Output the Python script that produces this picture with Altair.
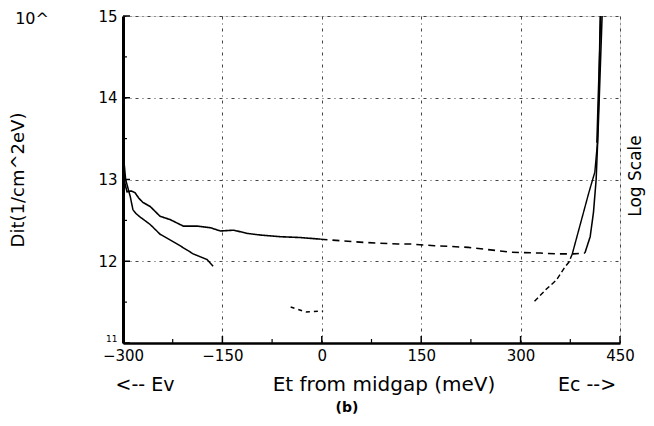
import altair as alt
import pandas as pd

# ---- data (Et in meV from midgap, Dit as log10 value) ----
a1_et = [-300, -299, -297, -294, -288, -282, -276, -270, -259, -244, -229, -209, -188, -168, -153, -133, -112, -92, -62, -32, -2]
a1_dit = [13.35, 13.15, 12.95, 12.85, 12.86, 12.84, 12.77, 12.72, 12.67, 12.55, 12.51, 12.43, 12.43, 12.41, 12.37, 12.38, 12.34, 12.32, 12.30, 12.29, 12.27]
a2_et = [-2, 30, 64, 115, 135, 170, 221, 286, 330, 357, 380, 397]
a2_dit = [12.27, 12.25, 12.23, 12.21, 12.21, 12.19, 12.17, 12.11, 12.10, 12.09, 12.09, 12.10]
a3_et = [397, 405, 410, 414, 417, 420, 423]
a3_dit = [12.10, 12.30, 12.60, 13.00, 13.60, 14.30, 15.00]

b1_et = [-300, -296, -289, -285, -280, -274, -259, -244, -218, -194, -173, -164]
b1_dit = [13.35, 13.00, 12.79, 12.63, 12.58, 12.54, 12.45, 12.33, 12.21, 12.09, 12.02, 11.94]
b2_et = [-47, -24, 2]
b2_dit = [11.44, 11.38, 11.39]
b3_et = [321, 339, 354, 367, 373, 378]
b3_dit = [11.51, 11.66, 11.77, 11.93, 11.99, 12.09]
b4_et = [378, 390, 403, 412, 416, 418, 420]
b4_dit = [12.09, 12.45, 12.84, 13.09, 13.45, 14.00, 15.00]

band_et = [415, 417, 419, 421]
band_dit = [13.45, 14.00, 14.50, 15.00]

x_major = [-300, -150, 0, 150, 300, 450]
x_minor = [-225, -75, 75, 225, 375]
y_major = [11, 12, 13, 14, 15]
y_minor = [11.5, 12.5, 13.5, 14.5]

segments = {
    "A1": (a1_et, a1_dit), "A2": (a2_et, a2_dit), "A3": (a3_et, a3_dit),
    "B1": (b1_et, b1_dit), "B2": (b2_et, b2_dit), "B3": (b3_et, b3_dit),
    "B4": (b4_et, b4_dit), "band": (band_et, band_dit),
}
rows = []
for seg, (xs, ys) in segments.items():
    for i, (x, y) in enumerate(zip(xs, ys)):
        rows.append({"seg": seg, "et": x, "dit": y, "i": i})
df = pd.DataFrame(rows)

seg_names = ["A1", "A2", "A3", "B1", "B2", "B3", "B4", "band"]
seg_dash = [[1, 0], [7, 5], [1, 0], [1, 0], [4, 4], [5, 3], [1, 0], [1, 0]]
seg_width = [1.6, 1.4, 1.8, 1.6, 1.3, 1.5, 1.8, 7]

W, H = 497, 327
FONT = "DejaVu Sans"

xscale = alt.Scale(domain=[-300, 450], nice=False, zero=False)
yscale = alt.Scale(domain=[11, 15], nice=False, zero=False)

xaxis = alt.Axis(
    values=x_major, grid=True, gridDash=[3, 4, 1, 4], gridColor="#444", gridWidth=1,
    ticks=False, domain=True, domainColor="black", domainWidth=2.5,
    labelFont=FONT, labelFontSize=15, labelColor="black", labelPadding=5,
    labelFlush=False, title=None, format="d")
yaxis = alt.Axis(
    values=y_major, grid=True, gridDash=[3, 4, 1, 4], gridColor="#444", gridWidth=1,
    ticks=False, domain=True, domainColor="black", domainWidth=3,
    labelFont=FONT, labelColor="black", labelPadding=6,
    labelFontSize={"condition": {"test": "datum.value === 11", "value": 9}, "value": 15},
    labelBaseline={"condition": {"test": "datum.value === 11", "value": "bottom"}, "value": "middle"},
    labelFlush=False, title=None, format="d")

lines = alt.Chart(df).mark_line(color="black", strokeCap="butt").encode(
    x=alt.X("et:Q", scale=xscale, axis=xaxis),
    y=alt.Y("dit:Q", scale=yscale, axis=yaxis),
    order="i:Q",
    strokeDash=alt.StrokeDash("seg:N", scale=alt.Scale(domain=seg_names, range=seg_dash), legend=None),
    strokeWidth=alt.StrokeWidth("seg:N", scale=alt.Scale(domain=seg_names, range=seg_width), legend=None),
)

xt_major = alt.Chart(pd.DataFrame({"t": x_major})).mark_rule(color="black", strokeWidth=1.5).encode(
    x=alt.X("t:Q", scale=xscale, axis=xaxis), y=alt.value(H), y2=alt.value(H - 7))
xt_minor = alt.Chart(pd.DataFrame({"t": x_minor})).mark_rule(color="black", strokeWidth=1.2).encode(
    x=alt.X("t:Q", scale=xscale, axis=xaxis), y=alt.value(H), y2=alt.value(H - 4))
yt_major = alt.Chart(pd.DataFrame({"t": y_major})).mark_rule(color="black", strokeWidth=1.5).encode(
    y=alt.Y("t:Q", scale=yscale, axis=yaxis), x=alt.value(0), x2=alt.value(7))
yt_minor = alt.Chart(pd.DataFrame({"t": y_minor})).mark_rule(color="black", strokeWidth=1.2).encode(
    y=alt.Y("t:Q", scale=yscale, axis=yaxis), x=alt.value(0), x2=alt.value(4))

def label(text, x, y, size=18, angle=0, weight="normal"):
    return alt.Chart(pd.DataFrame({"t": [text]})).mark_text(
        font=FONT, fontSize=size, color="black", angle=angle, fontWeight=weight,
        align="center", baseline="middle").encode(
        text="t:N", x=alt.value(x), y=alt.value(y))

texts = [
    label("<-- Ev", 22, 369, 19),
    label("Et from midgap (meV)", 261, 369, 20),
    label("Ec -->", 464, 369, 19),
    label("(b)", 224, 392, 14, weight="bold"),
    label("10^", -91, 3, 16),
    label("Dit(1/cm^2eV)", -104, 164, 18, angle=270),
    label("Log Scale", 513, 160, 17, angle=270),
]

chart = alt.layer(lines, xt_major, xt_minor, yt_major, yt_minor, *texts).properties(
    width=W, height=H,
    autosize=alt.AutoSizeParams(type="none"),
    padding={"left": 115, "top": 8, "right": 26, "bottom": 75},
).configure_view(stroke=None).configure(background="white")

chart.save("out.html", embed_options={"renderer": "svg", "actions": False})
